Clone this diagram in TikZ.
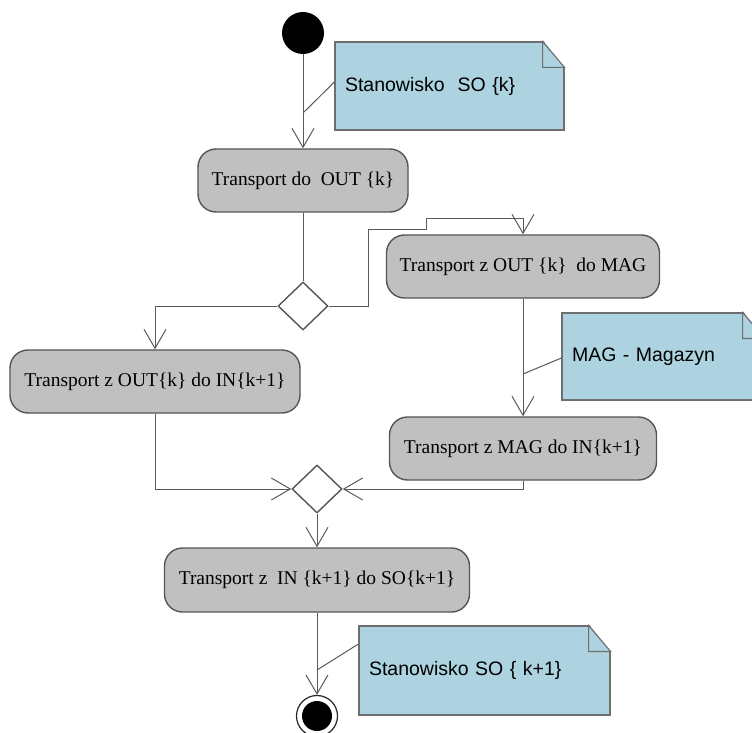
\documentclass[tikz,border=0pt]{standalone}
\usepackage{fontspec}
\setmainfont{Liberation Serif}
\newfontfamily\notefont{Liberation Sans}
\usetikzlibrary{arrows.meta,shapes.geometric}
\definecolor{boxfill}{RGB}{192,192,192}
\definecolor{boxline}{RGB}{85,85,85}
\definecolor{conline}{RGB}{90,90,90}
\definecolor{notefill}{RGB}{172,211,223}
\definecolor{noteline}{RGB}{110,110,110}
\tikzset{
  act/.style={draw=boxline, line width=1.4pt, fill=boxfill, rounded corners=18pt,
    inner sep=0pt, minimum height=63pt, font=\fontsize{19.5}{23}\selectfont},
  dec/.style={diamond, draw=boxline, line width=1.4pt, fill=white, inner sep=0pt,
    minimum width=50pt, minimum height=48pt},
  flow/.style={draw=conline, line width=1pt},
  arr/.style={flow, -{Straight Barb[length=19pt, width=22pt]}},
  notebox/.style={draw=noteline, line width=1.1pt, fill=notefill, align=left,
    inner xsep=10pt, inner ysep=0pt, font=\notefont\fontsize{19.5}{23}\selectfont},
  notelink/.style={draw=conline, line width=1pt},
}
\newcommand\dogear[1]{%
  \fill[white] ([xshift=-22pt,yshift=2pt]#1.north east) -- ([xshift=2pt,yshift=2pt]#1.north east)
    -- ([xshift=2pt,yshift=-28pt]#1.north east) -- cycle;
  \draw[draw=noteline, line width=1.1pt, fill=notefill, line join=miter]
    ([xshift=-22pt]#1.north east) -- ([xshift=-22pt,yshift=-26pt]#1.north east)
    -- ([yshift=-26pt]#1.north east) -- cycle;
}
\begin{document}
\begin{tikzpicture}[x=1pt, y=-1pt]
\useasboundingbox (0,0) rectangle (752,733);
\begin{scope}
\clip (0,0) rectangle (752,733);

% nodes
\node[circle, fill=black, minimum size=42pt, inner sep=0pt] (s) at (303,33) {};
\node[act, minimum width=210pt] (b1) at (303,180.5) {Transport do~ OUT \{k\}};
\node[dec] (d1) at (303,306) {};
\node[act, minimum width=273pt] (b2) at (523,266.5) {Transport z OUT \{k\}~ do MAG};
\node[act, minimum width=290pt] (b3) at (155,381.5) {Transport z OUT\{k\} do IN\{k+1\}};
\node[act, minimum width=267pt] (b4) at (523,448.5) {Transport z MAG do IN\{k+1\}};
\node[dec] (d2) at (317,489) {};
\node[act, minimum width=305pt, minimum height=64pt] (b5) at (317,580) {Transport z~ IN \{k+1\} do SO\{k+1\}};
\node[circle, draw=black!85, line width=1.2pt, minimum size=41pt, inner sep=0pt] (e) at (317,716) {};
\fill[black] (e) circle (15pt);

% notes
\node[notebox, text width=209pt, minimum height=88pt] (n1) at (449.5,86) {Stanowisko~ SO \{k\}};
\dogear{n1}
\node[notebox, text width=182pt, minimum height=87pt] (n2) at (663,356.5) {MAG - Magazyn};
\dogear{n2}
\node[notebox, text width=231pt, minimum height=89pt] (n3) at (484.5,670.5) {Stanowisko SO \{ k+1\}};
\dogear{n3}

% flows
\draw[arr] (s) -- (b1);
\draw[flow] (b1) -- (d1);
\draw[arr] (d1.east) -| (368,229) -| (426,218) -| (b2.north);
\draw[arr] (d1.west) -| (b3.north);
\draw[arr] (b2) -- (b4);
\draw[arr] (b3.south) |- (d2.west);
\draw[arr] (b4.south) |- (d2.east);
\draw[arr] (d2) -- (b5);
\draw[arr] (b5) -- (e);

% note links
\coordinate (c1) at (303,113);
\coordinate (c2) at (523,374);
\coordinate (c3) at (317,670);
\draw[notelink] ([yshift=4pt]n1.west) -- (c1);
\draw[notelink] ([yshift=-1.5pt]n2.west) -- (c2);
\draw[notelink] ([yshift=26.5pt]n3.west) -- (c3);
\end{scope}
\end{tikzpicture}
\end{document}
